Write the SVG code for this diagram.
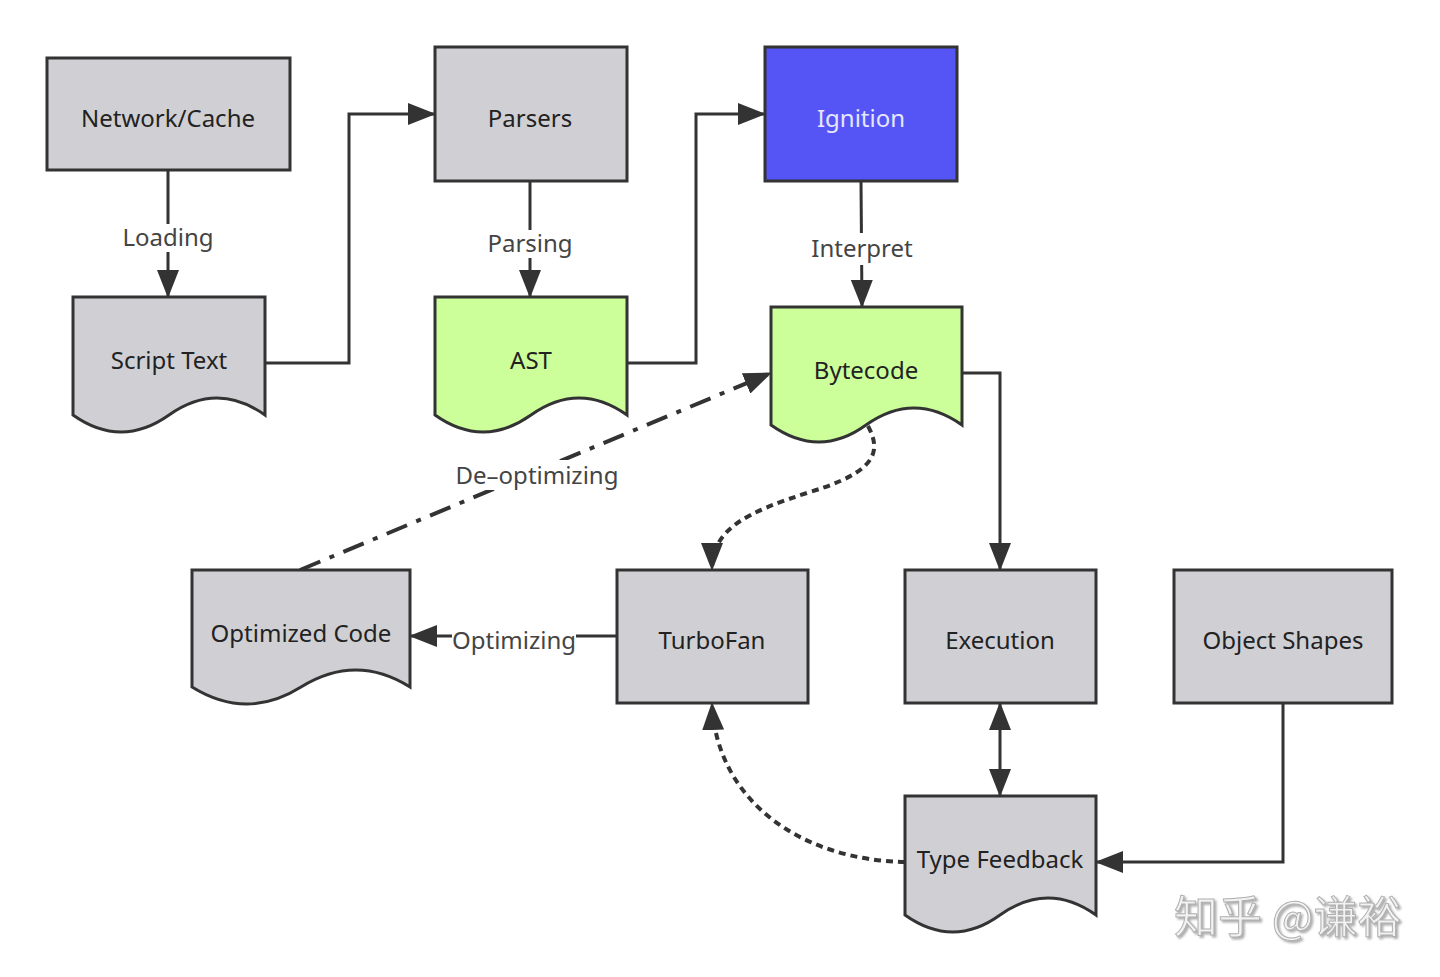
<svg xmlns="http://www.w3.org/2000/svg" width="1440" height="977" viewBox="0 0 1440 977">
<style>
.box{stroke:#333;stroke-width:3;stroke-linejoin:miter}
.gray{fill:#d0d0d4}
.green{fill:#ccff99}
.blue{fill:#5555f6}
.t{font-family:"Noto Sans","Liberation Sans",sans-serif;font-size:24px;fill:#222;text-anchor:middle;dominant-baseline:central}
.lbl{font-family:"Noto Sans","Liberation Sans",sans-serif;font-size:24px;fill:#444;text-anchor:middle;dominant-baseline:central}
.edge{fill:none;stroke:#333;stroke-width:3}
.dot{stroke-dasharray:7 5;stroke-width:4}
.dashdot{stroke-dasharray:22 10 5 10;stroke-width:4}
</style>
<defs>
<marker id="arr" markerUnits="userSpaceOnUse" markerWidth="28" markerHeight="22" refX="27" refY="11" orient="auto-start-reverse">
<path d="M0,0 L28,11 L0,22 Z" fill="#333"/>
</marker>
<filter id="sh" x="-10%" y="-30%" width="120%" height="160%">
<feDropShadow dx="2" dy="2" stdDeviation="1" flood-color="#999" flood-opacity="0.8"/>
</filter>
</defs>
<rect width="1440" height="977" fill="#fff"/>

<g id="connectors">
<path class="edge" d="M168,170 V297" marker-end="url(#arr)"/>
<path class="edge" d="M265,363 H349 V114 H435" marker-end="url(#arr)"/>
<path class="edge" d="M530,181 V297" marker-end="url(#arr)"/>
<path class="edge" d="M627,363 H696 V114 H765" marker-end="url(#arr)"/>
<path class="edge" d="M861,181 L862,307" marker-end="url(#arr)"/>
<path class="edge" d="M962,373 H1000 V570" marker-end="url(#arr)"/>
<path class="edge dot" d="M868,426 C882,452 876,472 810,492 C748,512 712,528 712,570" marker-end="url(#arr)"/>
<path class="edge dashdot" d="M300,570 L771,373" marker-end="url(#arr)"/>
<path class="edge" d="M617,636 H410" marker-end="url(#arr)"/>
<path class="edge" d="M1000,703 V796" marker-start="url(#arr)" marker-end="url(#arr)"/>
<path class="edge" d="M1283,703 V862 H1096" marker-end="url(#arr)"/>
<path class="edge dot" d="M905,862 C800,860 716,800 712,703" marker-end="url(#arr)"/>
<rect x="120" y="224" width="96" height="28" fill="#fff"/>
<text class="lbl" x="168" y="236">Loading</text>
<rect x="486" y="230" width="90" height="28" fill="#fff"/>
<text class="lbl" x="530" y="242">Parsing</text>
<rect x="812" y="233" width="100" height="32" fill="#fff"/>
<text class="lbl" x="862" y="247">Interpret</text>
<rect x="452" y="460" width="168" height="30" fill="#fff"/>
<text class="lbl" x="537" y="474">De–optimizing</text>
<rect x="452" y="624" width="124" height="30" fill="#fff"/>
<text class="lbl" x="514" y="639">Optimizing</text>
</g>

<g id="network-cache">
<rect class="box gray" x="47" y="58" width="243" height="112"/>
<text class="t" x="168" y="117">Network/Cache</text>
</g>
<g id="parsers">
<rect class="box gray" x="435" y="47" width="192" height="134"/>
<text class="t" x="530" y="117">Parsers</text>
</g>
<g id="ignition">
<rect class="box blue" x="765" y="47" width="192" height="134"/>
<text class="t" x="861" y="117" style="fill:#e6e6ff">Ignition</text>
</g>
<g id="script-text">
<path class="box gray" d="M73,297 H265 V415 Q217,381 169,415 Q121,449 73,415 Z"/>
<text class="t" x="169" y="359">Script Text</text>
</g>
<g id="ast">
<path class="box green" d="M435,297 H627 V415 Q579,381 531,415 Q483,449 435,415 Z"/>
<text class="t" x="531" y="359">AST</text>
</g>
<g id="bytecode">
<path class="box green" d="M771,307 H962 V425 Q914,391 866,425 Q819,459 771,425 Z"/>
<text class="t" x="866" y="369">Bytecode</text>
</g>
<g id="optimized-code">
<path class="box gray" d="M192,570 H410 V687 Q356,653 301,687 Q247,721 192,687 Z"/>
<text class="t" x="301" y="632">Optimized Code</text>
</g>
<g id="turbofan">
<rect class="box gray" x="617" y="570" width="191" height="133"/>
<text class="t" x="712" y="639">TurboFan</text>
</g>
<g id="execution">
<rect class="box gray" x="905" y="570" width="191" height="133"/>
<text class="t" x="1000" y="639">Execution</text>
</g>
<g id="object-shapes">
<rect class="box gray" x="1174" y="570" width="218" height="133"/>
<text class="t" x="1283" y="639">Object Shapes</text>
</g>
<g id="type-feedback">
<path class="box gray" d="M905,796 H1096 V915 Q1048,881 1000,915 Q953,949 905,915 Z"/>
<text class="t" x="1000" y="858">Type Feedback</text>
</g>

<g id="watermark">
<text x="1174" y="933" filter="url(#sh)" style="font-family:'Noto Sans CJK SC',sans-serif;font-size:44px;fill:#f2f2f2;stroke:#b0b0b0;stroke-width:1">知乎 @谦裕</text>
</g>
</svg>
